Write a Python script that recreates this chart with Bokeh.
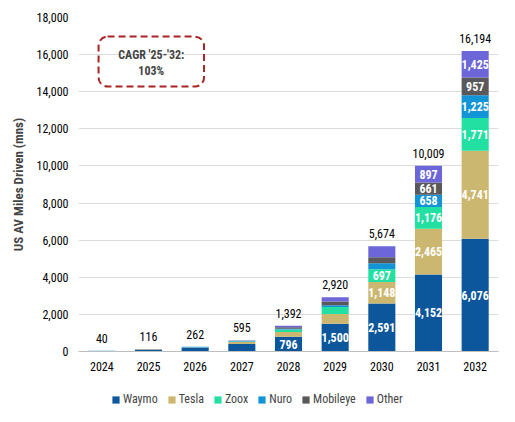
import numpy as np
from bokeh.plotting import figure
from bokeh.layouts import column
from bokeh.models import (ColumnDataSource, Range1d, FixedTicker, NumeralTickFormatter,
                          Legend, LegendItem, BoxAnnotation, Label)
from bokeh.core.properties import value
from bokeh.embed import file_html
from bokeh.resources import INLINE

# US AV miles driven (mns), by operator
years = ["2024", "2025", "2026", "2027", "2028", "2029", "2030", "2031", "2032"]
waymo = [32, 100, 200, 410, 796, 1500, 2591, 4152, 6076]
tesla = [0, 4, 10, 105, 250, 520, 1148, 2465, 4741]
zoox = [0, 2, 5, 20, 140, 380, 697, 1176, 1771]
nuro = [6, 8, 40, 35, 40, 95, 323, 658, 1225]
mobileye = [1, 1, 5, 15, 76, 195, 323, 661, 957]
other = [1, 1, 2, 10, 90, 230, 592, 897, 1425]
totals = [40, 116, 262, 595, 1392, 2920, 5674, 10009, 16194]
cagr_text = ["CAGR '25-'32:", "103%"]

series = ["Waymo", "Tesla", "Zoox", "Nuro", "Mobileye", "Other"]
colors = ["#0c569c", "#cbb76f", "#22e0a1", "#1294d6", "#59595b", "#6c66d8"]

FONT = "'Roboto Condensed', 'Liberation Sans Narrow', Roboto"

xs = list(range(len(years)))
data = dict(x=xs, total=totals, total_txt=[f"{t:,}" for t in totals])
for name, vals in zip(series, [waymo, tesla, zoox, nuro, mobileye, other]):
    data[name] = vals
source = ColumnDataSource(data)

p = figure(width=505, height=378, output_backend="svg", toolbar_location=None,
           x_range=Range1d(-0.5, len(years) - 0.5), y_range=Range1d(0, 18000),
           min_border_left=78, min_border_right=7, min_border_top=17,
           min_border_bottom=27)
p.outline_line_color = None

renderers = p.vbar_stack(series, x="x", width=0.58, color=colors, line_color=None,
                         source=source)

# segment labels (only where the segment is tall enough)
lx, ly, lt = [], [], []
bottoms = np.zeros(len(years))
for vals in [waymo, tesla, zoox, nuro, mobileye, other]:
    for i, v in enumerate(vals):
        if v >= 650:
            lx.append(xs[i])
            ly.append(bottoms[i] + v / 2)
            lt.append(f"{v:,}")
    bottoms = bottoms + np.array(vals)
p.text(x=lx, y=ly, text=lt, text_color="white", text_font=value(FONT),
       text_font_size="12px", text_font_style="bold",
       text_align="center", text_baseline="middle")

# totals above bars
p.text(x="x", y="total", text="total_txt", source=source, text_color="black",
       text_font=value(FONT), text_font_size="12px", text_align="center",
       text_baseline="bottom", y_offset=-8)

# CAGR box
box = BoxAnnotation(left=-0.07, right=2.19, bottom=14280, top=16970,
                    fill_alpha=0, line_color="#a82424", line_alpha=1, line_width=2,
                    line_dash="7 4", border_radius=9)
p.add_layout(box)
for txt, yy in zip(cagr_text, [16000, 15130]):
    p.add_layout(Label(x=1.06, y=yy, text=txt, text_font=FONT,
                       text_font_size="12px", text_font_style="bold",
                       text_align="center", text_baseline="middle"))

# axes
p.xaxis.ticker = FixedTicker(ticks=xs)
p.xaxis.major_label_overrides = {i: y for i, y in zip(xs, years)}
p.yaxis.ticker = FixedTicker(ticks=list(range(0, 18001, 2000)))
p.yaxis.formatter = NumeralTickFormatter(format="0,0")
for ax in (p.xaxis, p.yaxis):
    ax.major_tick_line_color = None
    ax.minor_tick_line_color = None
    ax.major_tick_out = 0
    ax.major_label_text_font = FONT
    ax.major_label_text_font_size = "12px"
    ax.major_label_text_color = "black"
p.xaxis.axis_line_color = "#bfbfbf"
p.yaxis.axis_line_color = None
p.xaxis.major_label_standoff = 10
p.yaxis.major_label_standoff = 10
p.yaxis.axis_label = "US AV Miles Driven (mns)"
p.yaxis.axis_label_text_font = FONT
p.yaxis.axis_label_text_font_size = "13px"
p.yaxis.axis_label_text_font_style = "bold"
p.yaxis.axis_label_standoff = 8
p.xgrid.grid_line_color = None
p.ygrid.grid_line_color = "#dcdcdc"

# legend lives in its own strip below the chart (zero-height swatch glyphs)
lg = figure(width=505, height=40, output_backend="svg", toolbar_location=None,
            x_range=Range1d(0, 1), y_range=Range1d(0, 1),
            min_border_left=78, min_border_right=7, min_border_top=0,
            min_border_bottom=0)
lg.axis.visible = False
lg.grid.grid_line_color = None
lg.outline_line_color = None
items = []
for name, c in zip(series, colors):
    r = lg.vbar(x=[0.5], top=[0], width=0.1, fill_color=c, line_color=None)
    items.append(LegendItem(label=name, renderers=[r]))
legend = Legend(items=items, orientation="horizontal", location=(33, 12),
                border_line_color=None, background_fill_alpha=0,
                glyph_width=9, glyph_height=9, label_standoff=3, spacing=9,
                padding=4, margin=0, label_text_font=FONT,
                label_text_font_size="12px")
lg.add_layout(legend)

open("out.html", "w").write(file_html(column(p, lg), INLINE))
